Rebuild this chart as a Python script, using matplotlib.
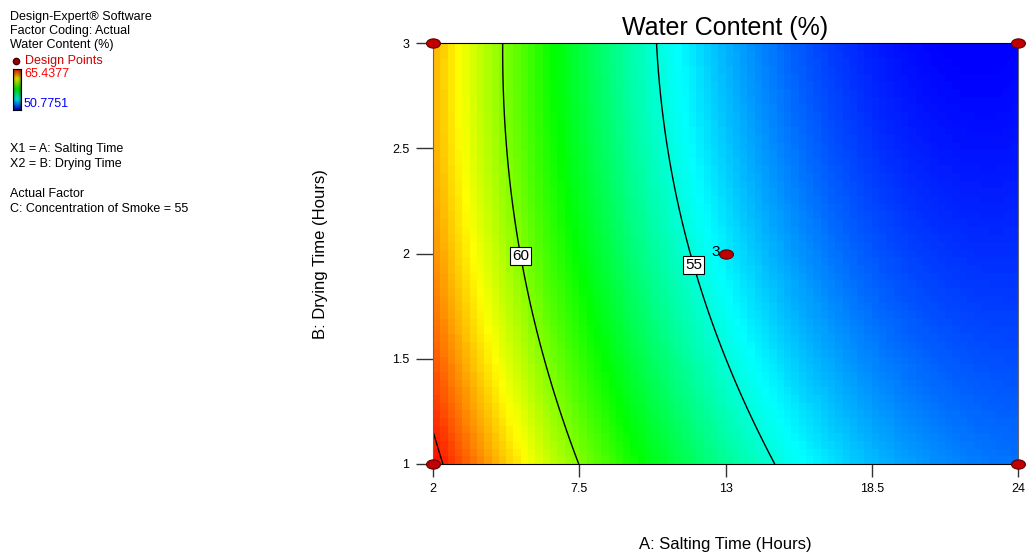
import numpy as np
import matplotlib
matplotlib.use("Agg")
import matplotlib.pyplot as plt
from matplotlib.colors import LinearSegmentedColormap
from matplotlib.path import Path
from matplotlib.transforms import Affine2D

plt.rcParams['font.family'] = ['Liberation Sans', 'DejaVu Sans']

# =======================
# Data
# =======================

# points on the surface: salting time (A), drying time (B), water content (W)
a_read = [7.5, 6.2, 5.31, 4.82, 4.56,
          15.05, 12.72, 11.66, 10.84, 10.46,
          2.34, 2.0,
          2.0, 24.0, 24.0, 2.0, 24.0]
b_read = [1.0, 1.5, 2.0, 2.5, 3.0,
          1.0, 1.5, 2.0, 2.5, 3.0,
          1.0, 1.15,
          1.0, 3.0, 1.0, 3.0, 2.0]
w_read = [60, 60, 60, 60, 60,
          55, 55, 55, 55, 55,
          65, 65,
          65.44, 50.78, 52.4, 62.9, 51.5]

design_a = [2, 2, 24, 24, 13]
design_b = [1, 3, 1, 3, 2]

w_min = 50.7751
w_max = 65.4377
contour_levels = [55, 60, 65]
labelled_levels = [55, 60]
label_pos = [(11.66, 1.94), (5.31, 1.99)]

x_ticks = [2, 7.5, 13, 18.5, 24]
x_ticklabels = ["2", "7.5", "13", "18.5", "24"]
y_ticks = [1, 1.5, 2, 2.5, 3]
y_ticklabels = ["1", "1.5", "2", "2.5", "3"]

# =======================
# Polynomial response surface fitted to the readings
# =======================

A = np.array(a_read)
B = np.array(b_read)


def terms(a, b):
    return [np.ones_like(a), a, b, a * b, a ** 2, b ** 2, a ** 2 * b, a * b ** 2]


X = np.column_stack(terms(A, B))
coef, *_ = np.linalg.lstsq(X, np.array(w_read, dtype=float), rcond=None)


def model(a, b):
    return sum(c * t for c, t in zip(coef, terms(a, b)))


cmap = LinearSegmentedColormap.from_list(
    "de", ["#0000ff", "#00ffff", "#00ff00", "#ffff00", "#ff0000"])

fig = plt.figure(figsize=(10.27, 5.57), dpi=100)
ax = fig.add_axes([433 / 1027, 1 - 464 / 557, 585 / 1027, 421 / 557])

# blocky colour fill
a_edges = np.linspace(2, 24, 81)
b_edges = np.linspace(1, 3, 56)
ac = (a_edges[:-1] + a_edges[1:]) / 2
bc = (b_edges[:-1] + b_edges[1:]) / 2
AC, BC = np.meshgrid(ac, bc)
ax.pcolormesh(a_edges, b_edges, model(AC, BC), cmap=cmap,
              vmin=w_min, vmax=w_max, shading='flat')

# contour lines
af = np.linspace(2, 24, 400)
bf = np.linspace(1, 3, 300)
AF, BF = np.meshgrid(af, bf)
cs = ax.contour(AF, BF, model(AF, BF), levels=contour_levels,
                colors='black', linewidths=1)
labels = ax.clabel(cs, levels=labelled_levels, manual=label_pos, fmt='%d',
                   fontsize=11, inline=False)
for t in labels:
    t.set_rotation(0)
    t.set_bbox(dict(boxstyle='square,pad=0.12', fc='white', ec='black', lw=0.8))

# design points
ellipse = Path.unit_circle().transformed(Affine2D().scale(1.5, 1.0))
ax.plot(design_a, design_b, linestyle='none', marker=ellipse, markersize=10,
        markerfacecolor='#c00000', markeredgecolor='#600000',
        markeredgewidth=0.8, clip_on=False, zorder=5)
ax.annotate("3", (13, 2), xytext=(-4, 1), textcoords='offset points',
            ha='right', va='center', fontsize=11)

ax.set_xlim(2, 24)
ax.set_ylim(1, 3)
ax.set_xticks(x_ticks)
ax.set_xticklabels(x_ticklabels)
ax.set_yticks(y_ticks)
ax.set_yticklabels(y_ticklabels)
ax.tick_params(axis='x', length=9, width=1, pad=5, labelsize=9, color='#333333')
ax.tick_params(axis='y', length=12, width=1, pad=5, labelsize=9, color='#333333')
for side in ['top', 'bottom']:
    ax.spines[side].set_color('black')
for side in ['left', 'right']:
    ax.spines[side].set_color('#666666')

fig.text(725.5 / 1027, 1 - 28 / 557, "Water Content (%)", ha='center',
         va='center', fontsize=18)
fig.text(725.5 / 1027, 1 - 545 / 557, "A: Salting Time (Hours)", ha='center',
         va='center', fontsize=12)
fig.text(320 / 1027, 1 - 254 / 557, "B: Drying Time (Hours)", ha='center',
         va='center', rotation=90, fontsize=12)

# =======================
# Side notes
# =======================

fs = 9
def note(y, s, x=10, **kw):
    fig.text(x / 1027, 1 - y / 557, s, ha='left', va='center', fontsize=fs, **kw)

note(17, "Design-Expert® Software")
note(31, "Factor Coding: Actual")
note(45, "Water Content (%)")
fig.lines.append(plt.Line2D([15.5 / 1027], [1 - 61 / 557], marker='o',
                            markersize=4.5, color='#a00000',
                            markeredgecolor='#400000',
                            transform=fig.transFigure))
note(61, "Design Points", x=25, color='#d00000')
note(74, "65.4377", x=24, color='#ff0000')
note(104, "50.7751", x=24, color='#0000ff')
note(149, "X1 = A: Salting Time")
note(164, "X2 = B: Drying Time")
note(194, "Actual Factor")
note(209, "C: Concentration of Smoke = 55")

# small shaded colour key
cax = fig.add_axes([13 / 1027, 1 - 110 / 557, 8 / 1027, 41 / 557])
grad = cmap(np.linspace(0, 1, 100))[:, :3]
shade = 0.45 + 0.4 * np.sin(np.pi * np.linspace(0.1, 0.9, 8))
key = grad[:, None, :] * shade[None, :, None]
cax.imshow(key, aspect='auto', origin='lower')
cax.set_xticks([])
cax.set_yticks([])
for s in cax.spines.values():
    s.set_linewidth(0.8)

fig.savefig("out.png", dpi=100)
